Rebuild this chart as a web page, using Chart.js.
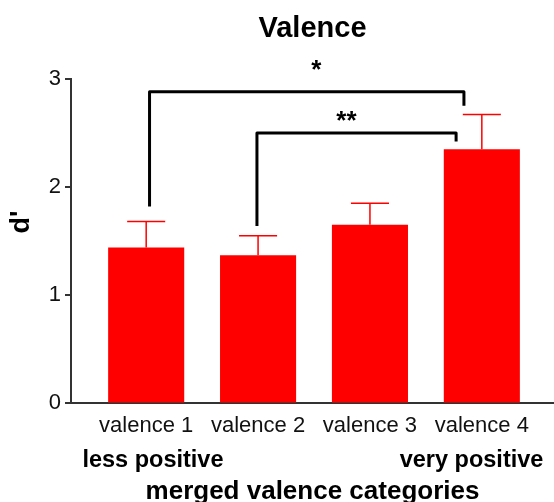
<!DOCTYPE html>
<html>
<head>
<meta charset="utf-8">
<script src="https://cdn.jsdelivr.net/npm/chart.js@4"></script>
<style>
  html, body { margin: 0; padding: 0; background: #fff; overflow: hidden; }
  #wrap { position: absolute; left: 0; top: 0; width: 554px; height: 508px; }
</style>
</head>
<body>
<div id="wrap"><canvas id="valenceChart"></canvas></div>
<script>
// categorie e valori
const categories = ['valence 1', 'valence 2', 'valence 3', 'valence 4'];
const dprime = [1.44, 1.37, 1.65, 2.35];
const sem = [0.24, 0.18, 0.20, 0.32];
const yTicks = [0, 1, 2, 3];

// parentesi di significatività (posizioni in unità dei dati)
const sigLabels = ['*', '**'];
const bracketFrom = [1.03, 1.99];
const bracketTo = [3.84, 3.77];
const bracketTop = [2.88, 2.50];
const footFrom = [1.82, 1.64];
const footTo = [2.75, 2.42];
const starX = [2.52, 2.79];
const starY = [3.11, 2.64];

const FONT = '"Liberation Sans", Arial, sans-serif';

const extras = {
  id: 'extras',
  afterDatasetsDraw(chart) {
    const ctx = chart.ctx;
    const x = chart.scales.x, y = chart.scales.y;
    const meta = chart.getDatasetMeta(0);
    ctx.save();
    // barre d'errore (solo verso l'alto)
    ctx.strokeStyle = '#ff0000';
    ctx.lineWidth = 1.5;
    meta.data.forEach(function(bar, i) {
      const cx = bar.x;
      const yTop = y.getPixelForValue(dprime[i] + sem[i]);
      const half = bar.width / 4;
      ctx.beginPath();
      ctx.moveTo(cx, bar.y);
      ctx.lineTo(cx, yTop);
      ctx.moveTo(cx - half, yTop);
      ctx.lineTo(cx + half, yTop);
      ctx.stroke();
    });
    // parentesi
    ctx.strokeStyle = '#000';
    ctx.lineWidth = 3;
    ctx.lineJoin = 'round';
    for (let i = 0; i < sigLabels.length; i++) {
      ctx.beginPath();
      ctx.moveTo(x.getPixelForValue(bracketFrom[i]), y.getPixelForValue(footFrom[i]));
      ctx.lineTo(x.getPixelForValue(bracketFrom[i]), y.getPixelForValue(bracketTop[i]));
      ctx.lineTo(x.getPixelForValue(bracketTo[i]), y.getPixelForValue(bracketTop[i]));
      ctx.lineTo(x.getPixelForValue(bracketTo[i]), y.getPixelForValue(footTo[i]));
      ctx.stroke();
      ctx.fillStyle = '#000';
      ctx.font = 'bold 26px ' + FONT;
      ctx.textAlign = 'center';
      ctx.textBaseline = 'alphabetic';
      ctx.fillText(sigLabels[i], x.getPixelForValue(starX[i]), y.getPixelForValue(starY[i]) + 11);
    }
    // etichette sotto l'asse x
    ctx.font = 'bold 23.5px ' + FONT;
    ctx.fillStyle = '#000';
    ctx.textBaseline = 'alphabetic';
    ctx.textAlign = 'left';
    ctx.fillText('less positive', x.getPixelForValue(0.43), 467);
    ctx.textAlign = 'right';
    ctx.fillText('very positive', x.getPixelForValue(4.55), 467);
    // titolo asse y
    ctx.translate(22, 222);
    ctx.rotate(-Math.PI / 2);
    ctx.textAlign = 'center';
    ctx.textBaseline = 'middle';
    ctx.font = 'bold 27px ' + FONT;
    ctx.fillText("d'", 0, 0);
    ctx.restore();
  }
};

const data = {
  datasets: [{
    data: dprime.map(function(v, i) { return { x: i + 1, y: v }; }),
    backgroundColor: '#ff0000',
    borderWidth: 0,
    categoryPercentage: 1,
    barPercentage: 0.68
  }]
};

const config = {
  type: 'bar',
  data: data,
  options: {
    responsive: true,
    maintainAspectRatio: false,
    animation: false,
    layout: { padding: { left: 0, right: 0, top: 0, bottom: 1 } },
    plugins: {
      legend: { display: false },
      tooltip: { enabled: false },
      title: {
        display: true,
        text: 'Valence',
        fullSize: false,
        color: '#000',
        font: { family: FONT, size: 29, weight: 'bold' },
        padding: { top: 12, bottom: 32 }
      }
    },
    scales: {
      x: {
        type: 'linear',
        offset: false,
        min: 0.328,
        max: 4.645,
        grid: { display: false, offset: false },
        border: { display: true, color: '#333', width: 2 },
        afterBuildTicks: function(s) { s.ticks = [1, 2, 3, 4].map(function(v) { return { value: v }; }); },
        ticks: {
          autoSkip: false,
          maxRotation: 0,
          padding: 1,
          color: '#111',
          font: { family: FONT, size: 22 },
          callback: function(v) { return categories[v - 1]; }
        },
        title: {
          display: true,
          text: 'merged valence categories',
          color: '#000',
          font: { family: FONT, size: 26, weight: 'bold' },
          padding: { top: 36, bottom: 0 }
        }
      },
      y: {
        min: 0,
        max: 3,
        afterFit: function(s) { s.width = 71; },
        afterBuildTicks: function(s) { s.ticks = yTicks.map(function(v) { return { value: v }; }); },
        grid: { drawOnChartArea: false, drawTicks: true, tickLength: 6, color: '#333', lineWidth: 2 },
        border: { display: true, color: '#333', width: 2 },
        ticks: {
          padding: 4,
          color: '#111',
          font: { family: FONT, size: 22 }
        }
      }
    }
  },
  plugins: [extras]
};

const ctx = document.getElementById('valenceChart').getContext('2d');
new Chart(ctx, config);
</script>
</body>
</html>
